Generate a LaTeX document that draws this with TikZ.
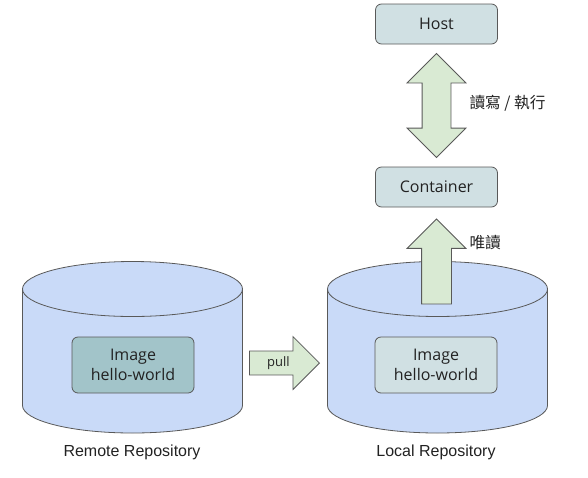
\documentclass[tikz,border=0pt]{standalone}
\usepackage{fontspec}
\setmainfont{Open Sans}
\newfontfamily\labelfont{Liberation Sans}
\newfontfamily\cjkfont{Noto Sans CJK TC}
\usetikzlibrary{shapes.arrows,calc}
\definecolor{drumblue}{HTML}{C9DAF8}
\definecolor{boxlight}{HTML}{D0E0E3}
\definecolor{boxdark}{HTML}{A2C4C9}
\definecolor{arrowgreen}{HTML}{D9EAD3}
\definecolor{edgegray}{HTML}{595959}
\definecolor{textdark}{HTML}{222222}
\newcommand{\drum}[1]{%
  \path[draw=edgegray, line width=0.8pt, fill=drumblue] (#1-110,-289) -- (#1-110,-405.5)
    arc[start angle=180, end angle=360, x radius=110, y radius=27.5] -- (#1+110,-289)
    arc[start angle=0, end angle=180, x radius=110, y radius=27.5] -- cycle;
  \draw[edgegray, line width=0.8pt] (#1-110,-289)
    arc[start angle=180, end angle=360, x radius=110, y radius=27.5];}

\begin{document}
\begin{tikzpicture}[x=1pt, y=1pt,
    box/.style={draw=edgegray, line width=0.8pt, rounded corners=6pt, fill=boxlight,
      minimum width=122pt, minimum height=40pt, align=center, text=textdark,
      font=\fontsize{16}{20.5}\selectfont},
    blockarrow/.style={draw=edgegray, line width=0.8pt, fill=arrowgreen, inner sep=0pt},
    repolabel/.style={text=textdark, font=\labelfont\fontsize{16}{18}\selectfont},
    cjklabel/.style={text=textdark, anchor=west, font=\cjkfont\fontsize{15.7}{18}\selectfont}]
    \useasboundingbox (0,0) rectangle (588,-477);
    \drum{132.5}
    \drum{437.5}

    \node[box] (host) at (436.5,-24) {Host};
    \node[box] (container) at (436.5,-187) {Container};
    \node[box, fill=boxdark, minimum height=56pt] (remoteimg) at (133,-365) {Image\\hello-world};
    \node[box, minimum height=56pt] (localimg) at (436,-365) {Image\\hello-world};
    \node[repolabel] (remote) at (132,-452) {Remote Repository};
    \node[repolabel] (local) at (436,-452) {Local Repository};

    \node[blockarrow, double arrow, rotate=90, minimum height=104pt, minimum width=58pt,
      inner sep=14pt, double arrow head extend=15pt] (rw)
      at ($(host.south)!0.5!(container.north)$) {};
    \node[blockarrow, single arrow, shape border rotate=90, minimum height=85pt,
      minimum width=58pt, inner sep=14.5pt, single arrow head extend=14.5pt, anchor=tip] (ro)
      at ([yshift=-11pt]container.south) {};
    \node[blockarrow, single arrow, minimum height=70pt, minimum width=53pt, inner sep=3pt,
      single arrow head extend=12pt, anchor=tip, text=textdark,
      font=\fontsize{13}{15}\selectfont] (pull) at (320,-363) {pull};

    \node[cjklabel] (rwlabel) at (466,-103) {讀寫 / 執行};
    \node[cjklabel] (rolabel) at (466,-243) {唯讀};
\end{tikzpicture}
\end{document}
